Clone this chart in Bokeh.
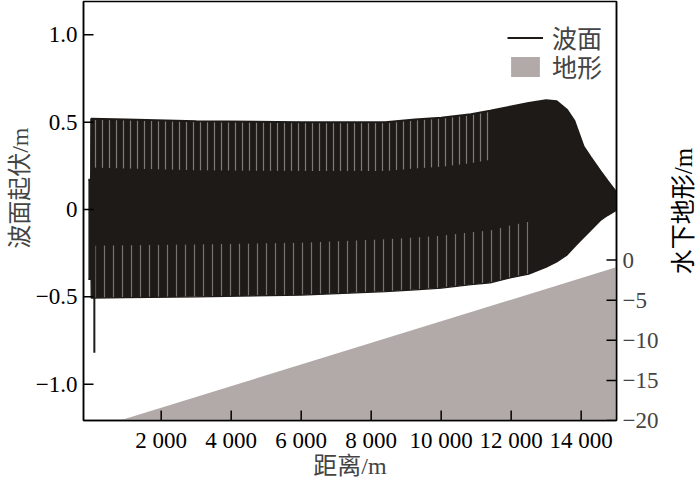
from math import pi
import numpy as np
from bokeh.plotting import figure
from bokeh.layouts import row
from bokeh.models import (Range1d, LinearAxis, FixedTicker, Legend, LegendItem,
                          Title, ColumnDataSource)
from bokeh.core.properties import value
from bokeh.embed import file_html
from bokeh.resources import INLINE

# ---------------- data ----------------
# wave surface envelope (crest / trough lines of the dense oscillation)
wave_x = [-80, -5, 0, 1000, 3000, 6000, 8400, 9250, 10000, 10850, 11400, 12000,
          12500, 13000, 13300, 13600, 13800, 14070, 14270, 14550, 14750, 15000]
wave_upper = [0.17, 0.17, 0.52, 0.515, 0.505, 0.50, 0.50, 0.515, 0.525, 0.545, 0.565, 0.59,
              0.61, 0.625, 0.62, 0.57, 0.51, 0.36, 0.30, 0.22, 0.166, 0.10]
wave_lower = [-0.40, -0.40, -0.507, -0.505, -0.50, -0.49, -0.47, -0.46, -0.45, -0.43, -0.42, -0.39,
              -0.37, -0.33, -0.30, -0.26, -0.216, -0.16, -0.12, -0.063, -0.035, -0.006]
# isolated first trough spike
spike_x = [90, 90]
spike_y = [0.0, -0.82]

# underwater terrain (linear slope)
terrain_x = [0, 15000]
terrain_y = [-21.1, -0.9]

x_ticks = [2000, 4000, 6000, 8000, 10000, 12000, 14000]
x_tick_labels = ["2 000", "4 000", "6 000", "8 000", "10 000", "12 000", "14 000"]
y_ticks = [-1.0, -0.5, 0.0, 0.5, 1.0]
y_tick_labels = ["\u22121.0", "\u22120.5", "0", "0.5", "1.0"]
t_ticks = [-20, -15, -10, -5, 0]
t_tick_labels = ["\u221220", "\u221215", "\u221210", "\u22125", "0"]

x_title = "距离/m"
y_title = "波面起伏/m"
t_title = "水下地形/m"
legend_labels = ["波面", "地形"]

# ---------------- styling ----------------
FONT = "'Liberation Serif', 'Noto Sans CJK SC'"
WAVE_COLOR = "#1e1a18"
TERRAIN_COLOR = "#b2aaa8"

W, H = 670, 494          # main figure; a 30 px strip to its right holds the right title
STRIP_W = 30
BL, BR, BT, BB = 83, 54, 1, 74
X_RANGE = (-220, 15010)
Y_RANGE = (-1.208, 1.191)
T_RANGE = (-20, 32.25)
TICK_PX = 10

p = figure(width=W, height=H, output_backend="svg", toolbar_location=None,
           x_range=Range1d(*X_RANGE), y_range=Range1d(*Y_RANGE),
           min_border_left=BL, min_border_right=BR, min_border_top=BT, min_border_bottom=BB)
p.extra_y_ranges = {"terrain": Range1d(*T_RANGE)}
p.xgrid.visible = False
p.ygrid.visible = False
p.outline_line_color = "black"
p.outline_line_width = 1.5
p.background_fill_color = "white"
p.border_fill_color = "white"

# terrain
tsrc = ColumnDataSource(dict(x=terrain_x, y=terrain_y, base=[T_RANGE[0] - 5] * len(terrain_x)))
terr = p.varea(x="x", y1="base", y2="y", source=tsrc, fill_color=TERRAIN_COLOR,
               y_range_name="terrain")

# wave band
wsrc = ColumnDataSource(dict(x=wave_x, up=wave_upper, lo=wave_lower))
p.varea(x="x", y1="lo", y2="up", source=wsrc, fill_color=WAVE_COLOR)

# texture strips (gaps between crests) in the left, uniform part
wx = np.array(wave_x, dtype=float)
m_up = (wx >= 0) & (wx <= 11400)
m_lo = (wx >= 0) & (wx <= 12500)
up = np.array(wave_upper)
lo = np.array(wave_lower)
p.varea(x=wx[m_up], y1=up[m_up] - 0.28, y2=up[m_up], fill_alpha=0,
        hatch_pattern="vertical_line", hatch_color="#cfc8c5", hatch_alpha=0.55,
        hatch_scale=7, hatch_weight=1.2)
p.varea(x=wx[m_lo], y1=lo[m_lo], y2=lo[m_lo] + 0.3, fill_alpha=0,
        hatch_pattern="vertical_line", hatch_color="#cfc8c5", hatch_alpha=0.5,
        hatch_scale=9, hatch_weight=1.2)

wave_line = p.line(wave_x, wave_upper, line_color=WAVE_COLOR, line_width=2)
p.line(wave_x, wave_lower, line_color=WAVE_COLOR, line_width=1.2)
p.line(spike_x, spike_y, line_color=WAVE_COLOR, line_width=2)

# inward tick marks, TICK_PX long, converted through the frame scale
fw = W - BL - BR
fh = H - BT - BB
dx = TICK_PX * (X_RANGE[1] - X_RANGE[0]) / fw
dy = TICK_PX * (Y_RANGE[1] - Y_RANGE[0]) / fh
TK = dict(line_color="black", line_width=1.5)
nx, ny, nt = len(x_ticks), len(y_ticks), len(t_ticks)
p.segment(x0=x_ticks, x1=x_ticks, y0=[Y_RANGE[0]] * nx, y1=[Y_RANGE[0] + dy] * nx, **TK)
p.scatter(x=[X_RANGE[0] + dx / 2] * ny, y=y_ticks, marker="dash", size=TICK_PX, **TK)
p.scatter(x=[X_RANGE[1] - dx / 2] * nt, y=t_ticks, marker="dash", size=TICK_PX,
          y_range_name="terrain", **TK)

# axes
for ax in (p.xaxis[0], p.yaxis[0]):
    ax.major_tick_in = 0
    ax.major_tick_out = 0
    ax.minor_tick_line_color = None
    ax.axis_line_width = 1.5
    ax.major_label_text_font = FONT
    ax.major_label_text_font_size = "23px"
    ax.major_label_text_color = "black"

p.xaxis.ticker = FixedTicker(ticks=x_ticks)
p.xaxis.major_label_overrides = dict(zip(x_ticks, x_tick_labels))
p.xaxis.major_label_standoff = 7
p.xaxis.axis_label = x_title
p.xaxis.axis_label_text_font = FONT
p.xaxis.axis_label_text_font_size = "24px"
p.xaxis.axis_label_text_font_style = "normal"
p.xaxis.axis_label_standoff = -3

p.yaxis.ticker = FixedTicker(ticks=y_ticks)
p.yaxis.major_label_overrides = dict(zip(y_ticks, y_tick_labels))
p.yaxis.major_label_standoff = 6

rax = LinearAxis(y_range_name="terrain", ticker=FixedTicker(ticks=t_ticks))
rax.major_label_overrides = dict(zip(t_ticks, t_tick_labels))
rax.major_tick_in = 0
rax.major_tick_out = 0
rax.minor_tick_line_color = None
rax.axis_line_width = 1.5
rax.major_label_text_font = FONT
rax.major_label_text_font_size = "23px"
rax.major_label_standoff = 6
p.add_layout(rax, "right")

# left title placed off-centre like the reference
p.add_layout(Title(text=y_title, align="right", offset=126, text_font=FONT,
                   text_font_size="24px", text_font_style="normal", standoff=0), "left")

LEG = dict(margin=0, padding=0, glyph_width=36, glyph_height=25, label_standoff=9,
           label_text_font=FONT, label_text_font_size="25px",
           border_line_alpha=0, background_fill_alpha=0)
p.add_layout(Legend(items=[LegendItem(label=legend_labels[0], renderers=[wave_line])],
                    location=(424, 365), **LEG))
p.add_layout(Legend(items=[LegendItem(label=legend_labels[1], renderers=[terr])],
                    location=(424, 336), **LEG))

# narrow strip to the right carrying the right-hand axis title (reads bottom to top);
# its frame is aligned with the main frame, so use a pixel-like range of the frame height
s = figure(width=STRIP_W, height=H, output_backend="svg", toolbar_location=None,
           x_range=Range1d(0, STRIP_W), y_range=Range1d(0, fh), x_axis_location=None,
           y_axis_location=None, min_border=0)
s.xgrid.visible = False
s.ygrid.visible = False
s.outline_line_color = None
s.background_fill_color = "white"
s.border_fill_color = "white"
s.text(x=[13], y=[fh / 2], text=[t_title], angle=pi / 2, text_align="center",
       text_baseline="middle", text_font=value(FONT), text_font_size=value("25px"),
       text_color="black")

layout = row(p, s, spacing=0)
open("out.html", "w").write(file_html(layout, INLINE))
